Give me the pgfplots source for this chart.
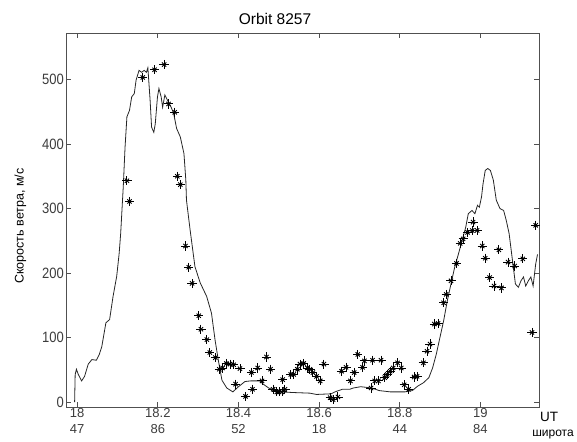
\documentclass[border=0pt]{standalone}
\usepackage{fontspec}
\setmainfont{Liberation Sans}
\usepackage{pgfplots}
\pgfplotsset{compat=1.18}
\definecolor{axgray}{HTML}{505050}
\definecolor{lblgray}{HTML}{3C3C3C}
\begin{document}
\begin{tikzpicture}
\useasboundingbox (-66.3pt,-33.8pt) rectangle (510.7pt,407.2pt);
\pgfplotstableread{
x y
18.1233 343
18.1297 311
18.1626 503
18.1918 515
18.2155 523
18.2265 462
18.2420 449
18.2484 350
18.2557 337
18.2685 242
18.2767 209
18.2849 184
18.3014 134
18.3068 113
18.3215 97
18.3288 77
18.3425 69
18.3525 51
18.3607 53
18.3699 60
18.3790 59
18.3881 58
18.3927 28
18.4037 52
18.4174 9
18.4320 46
18.4347 20
18.4475 53
18.4584 33
18.4694 70
18.4795 51
18.4858 20
18.4950 16
18.5005 16
18.5078 16
18.5151 20
18.5096 35
18.5297 43
18.5370 43
18.5461 51
18.5525 59
18.5616 60
18.5708 53
18.5772 51
18.5845 46
18.5936 40
18.6027 33
18.6119 59
18.6274 7
18.6347 4
18.6466 8
18.6557 48
18.6667 54
18.6776 33
18.6868 46
18.6959 74
18.7078 54
18.7123 64
18.7324 65
18.7288 22
18.7379 33
18.7470 33
18.7534 65
18.7626 38
18.7689 43
18.7763 48
18.7836 53
18.7945 61
18.8037 53
18.8110 27
18.8219 20
18.8356 39
18.8429 40
18.8584 61
18.8676 79
18.8749 90
18.8858 121
18.8950 122
18.9087 154
18.9151 167
18.9269 188
18.9406 215
18.9498 246
18.9571 253
18.9680 263
18.9817 279
18.9918 266
18.9799 266
19.0046 242
19.0119 223
19.0228 193
19.0338 180
19.0457 236
19.0521 177
19.0685 217
19.0849 211
19.1050 222
19.1279 108
19.1370 274
}\stars
\begin{axis}[
    at={(0,0)}, anchor=south west,
    scale only axis,
    width=473pt, height=374pt,
    xmin=17.973, xmax=19.146,
    ymin=-7.75, ymax=571.6,
    axis line style={axgray, line width=0.9pt},
    tick style={axgray, line width=0.7pt},
    tick align=inside,
    major tick length=5pt,
    xtick={18,18.2,18.4,18.6,18.8,19},
    xticklabels={18\\47, 18.2\\86, 18.4\\52, 18.6\\18, 18.8\\44, 19\\84},
    xticklabel style={align=center, font=\fontsize{13}{15.5}\selectfont, text=lblgray, yshift=2pt},
    ytick={0,100,200,300,400,500},
    yticklabel style={font=\fontsize{13}{13}\selectfont, text=lblgray, yscale=1.15, xshift=1pt},
    /pgf/number format/assume math mode=true,
    clip=true,
]
% solid curve
\addplot[black!85, line width=0.8pt] coordinates {
(17.9936,0) (17.9950,43) (17.9982,51) (18.0027,43) (18.0110,33) (18.0183,40)
(18.0274,59) (18.0365,66) (18.0475,65) (18.0548,74) (18.0610,86) (18.0712,123)
(18.0804,128) (18.0890,164) (18.0980,195) (18.1040,230) (18.1078,261) (18.1142,333)
(18.1187,395) (18.1233,442) (18.1297,452) (18.1352,473) (18.1416,478) (18.1461,499)
(18.1534,514) (18.1598,511) (18.1662,514) (18.1717,511) (18.1753,518) (18.1808,468)
(18.1845,426) (18.1900,418) (18.1936,431) (18.1991,473) (18.2027,486) (18.2082,473)
(18.2119,457) (18.2174,476) (18.2237,468) (18.2329,457) (18.2393,447) (18.2466,424)
(18.2557,411) (18.2648,385) (18.2694,344) (18.2710,313) (18.2800,267) (18.2920,210)
(18.3050,185) (18.3210,164) (18.3330,138) (18.3420,96) (18.3500,65) (18.3590,34)
(18.3710,22) (18.3860,16) (18.4000,24) (18.4160,32) (18.4300,33) (18.4530,33)
(18.4612,28) (18.4749,22) (18.4860,19) (18.5050,16) (18.5350,15) (18.5770,14)
(18.5936,12) (18.6301,13) (18.6393,16) (18.6575,20) (18.6758,20) (18.6849,22)
(18.7032,24) (18.7306,22) (18.7489,18) (18.7763,16) (18.8128,16) (18.8311,18)
(18.8447,25) (18.8584,30) (18.8721,38) (18.8813,53) (18.8904,74) (18.8995,100)
(18.9087,126) (18.9178,157) (18.9269,183) (18.9361,209) (18.9452,229) (18.9543,250)
(18.9635,271) (18.9699,292) (18.9790,297) (18.9863,292) (18.9927,305) (18.9973,302)
(19.0027,318) (19.0064,338) (19.0119,359) (19.0183,362) (19.0247,359) (19.0320,344)
(19.0393,313) (19.0484,300) (19.0575,297) (19.0639,282) (19.0712,261) (19.0776,229)
(19.0868,183) (19.0941,178) (19.1005,188) (19.1068,194) (19.1123,180) (19.1187,188)
(19.1251,194) (19.1306,180) (19.1370,214) (19.1416,229)
};
% asterisk measurements (plus + cross)
\addplot[only marks, mark=+, mark size=4.6pt, black, line width=0.9pt] table {\stars};
\addplot[only marks, mark=x, mark size=3pt, black, line width=0.9pt] table {\stars};
\end{axis}
\node[font=\fontsize{15.5}{15.5}\selectfont] at (208.7pt,388pt) {Orbit 8257};
\node[font=\fontsize{12.5}{12.5}\selectfont, rotate=90] at (-46pt,181pt) {Скорость ветра, м/с};
\node[font=\fontsize{13.5}{13.5}\selectfont] at (482.7pt,-10pt) {UT};
\node[font=\fontsize{12}{12}\selectfont] at (486.7pt,-27pt) {широта};
\end{tikzpicture}
\end{document}
